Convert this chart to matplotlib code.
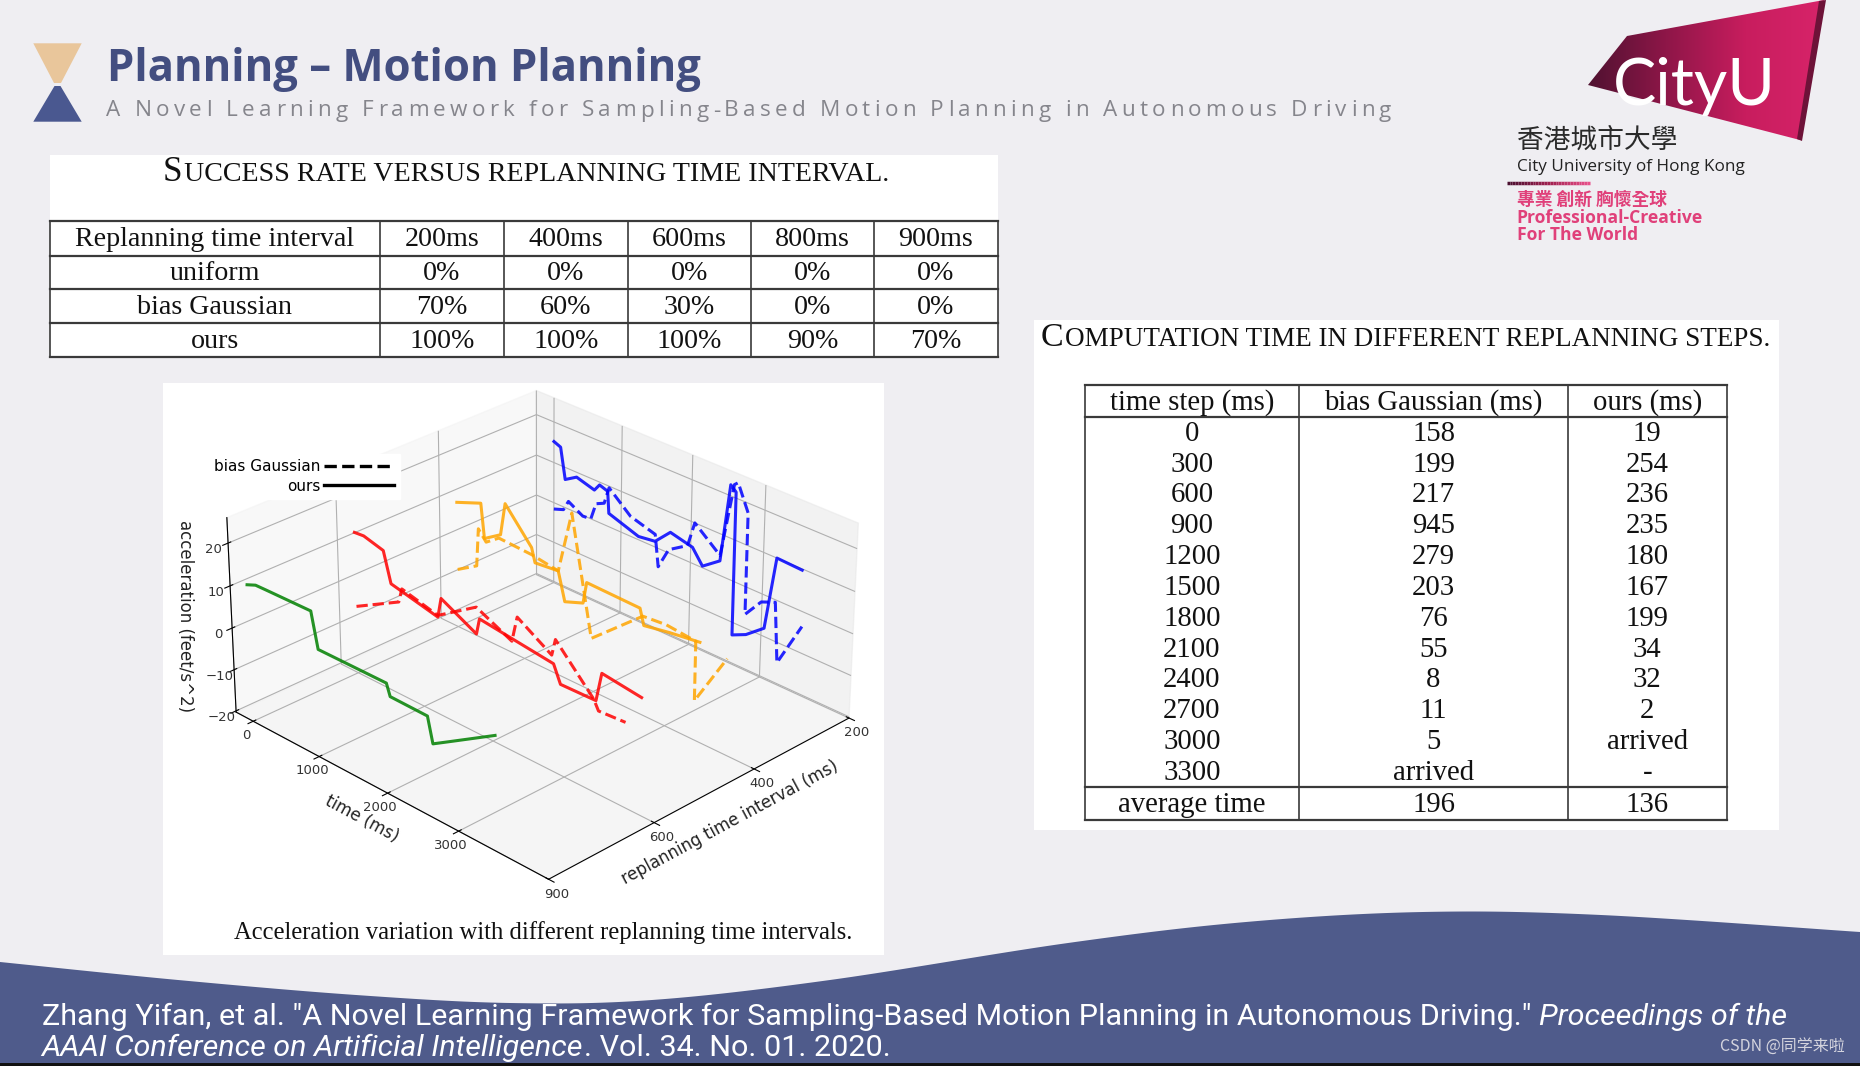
import numpy as np
import matplotlib
matplotlib.use("Agg")
import matplotlib.pyplot as plt
from matplotlib.patches import Polygon, Rectangle
from matplotlib.lines import Line2D
from matplotlib.collections import LineCollection
from matplotlib.colors import LinearSegmentedColormap
from matplotlib.font_manager import FontProperties

# ---------------------------------------------------------------- data
intervals = ["900", "600", "400", "200"]          # replanning time interval (ms)
time_ticks = [0, 1000, 2000, 3000]
acc_ticks = [-20, -10, 0, 10, 20]

# 900 ms interval (ours only)
t_900_ours = [0, 130, 300, 950, 1040, 2020, 2070, 2590, 2660, 2910, 3510]
a_900_ours = [12.3, 13.2, 13.3, 13.6, 5.4, 5.6, 2.9, 2.8, -3.0, -0.3, 6.2]
# 600 ms interval
t_600_ours = [0, 140, 430, 535, 1220, 1270, 1775, 1820, 2850, 2945, 3425, 3500, 4025]
a_600_ours = [13.8, 14.0, 12.7, 5.6, 3.0, 7.8, 3.4, 7.3, 5.1, 1.1, 1.3, 8.2, 7.0]
t_600_bias = [0, 645, 695, 1220, 1775, 2275, 2350, 2825, 2875, 3395, 3460, 3820]
a_600_bias = [-4.0, 2.1, 5.6, 3.4, 9.7, 5.7, 11.9, 6.9, 10.9, 1.4, -0.8, -0.4]
# 400 ms interval
t_400_ours = [0, 360, 410, 650, 720, 1105, 1155, 1490, 1585, 1845, 1895, 2640, 2695, 3040, 3455]
a_400_ours = [10.5, 12.9, 4.7, 7.4, 15.4, 7.7, 4.4, 5.0, -1.7, 0.0, 5.3, 5.0, 1.3, 2.4, 3.4]
t_400_bias = [0, 290, 320, 435, 625, 1105, 1490, 1680, 1965, 2680, 3000, 3400, 3400, 3820]
a_400_bias = [-6.0, -2.9, 6.4, 4.0, 6.4, 6.0, 5.0, 20.2, -7.6, 3.4, 3.9, 3.2, -10.9, 2.5]
# 200 ms interval
t_200_ours = [0, 100, 170, 340, 605, 680, 800, 820, 1255, 1495, 1710, 2025, 2170, 2410,
              2530, 2605, 2605, 2795, 3040, 3180, 3520]
a_200_ours = [15.2, 14.5, 7.0, 8.8, 7.5, 9.3, 8.6, 3.3, 0.8, 1.4, 5.2, 3.9, 0.4, 3.5,
              22.6, 21.4, -13.1, -11.5, -8.0, 10.0, 9.7]
t_200_bias = [0, 145, 220, 435, 555, 630, 750, 820, 1135, 1495, 1545, 1690, 1955, 2050,
              2410, 2580, 2630, 2775, 2775, 2990, 3180, 3230, 3545]
a_200_bias = [-1.6, -0.7, 1.9, -0.2, 0.0, 4.3, 5.3, 9.6, 4.9, 3.1, -4.5, 0.8, 3.8, 10.0,
              4.8, 23.0, 23.8, 17.7, -6.7, -2.0, -0.6, -14.9, -3.6]

# success-rate table
succ_header = ["Replanning time interval", "200ms", "400ms", "600ms", "800ms", "900ms"]
succ_methods = ["uniform", "bias Gaussian", "ours"]
succ_uniform = [0, 0, 0, 0, 0]
succ_bias = [70, 60, 30, 0, 0]
succ_ours = [100, 100, 100, 90, 70]

# computation-time table
comp_header = ["time step (ms)", "bias Gaussian (ms)", "ours (ms)"]
comp_steps = [0, 300, 600, 900, 1200, 1500, 1800, 2100, 2400, 2700, 3000, 3300]
comp_bias = ["158", "199", "217", "945", "279", "203", "76", "55", "8", "11", "5", "arrived"]
comp_ours = ["19", "254", "236", "235", "180", "167", "199", "34", "32", "2", "arrived", "-"]
comp_avg = ["average time", "196", "136"]

# ---------------------------------------------------------------- figure
W, H = 1860, 1066
BG = "#efeef2"
fig = plt.figure(figsize=(W / 100, H / 100), dpi=100)
fig.patch.set_facecolor(BG)
bg = fig.add_axes([0, 0, 1, 1])
bg.set_xlim(0, W)
bg.set_ylim(H, 0)
bg.set_autoscale_on(False)
bg.axis("off")
bg.patch.set_visible(False)
renderer = fig.canvas.get_renderer()


def tw(s, prop):
    return renderer.get_text_width_height_descent(s, prop, ismath=False)[0]


def fit_size(s, width, **fp):
    p = FontProperties(size=20, **fp)
    return 20 * width / tw(s, p)


# ---------------------------------------------------------------- 3D chart
ax = fig.add_axes([0.09, 0.12, 0.40, 0.50], projection="3d")
ax.set_facecolor("none")
ax.view_init(elev=28, azim=-45)
zr = 0.55
ax.set_box_aspect((1.04, 1.0, zr))

series = [
    (t_900_ours, a_900_ours, "900", "green", "-"),
    (t_600_ours, a_600_ours, "600", "red", "-"),
    (t_600_bias, a_600_bias, "600", "red", "--"),
    (t_400_ours, a_400_ours, "400", "orange", "-"),
    (t_400_bias, a_400_bias, "400", "orange", "--"),
    (t_200_ours, a_200_ours, "200", "blue", "-"),
    (t_200_bias, a_200_bias, "200", "blue", "--"),
]
for t, a, iv, col, ls in series:
    k = intervals.index(iv)
    ax.plot(t, [k] * len(t), a, color=col, ls=ls, lw=2.2, alpha=0.85)

ax.set_xlim(-265, 4215)
ax.set_ylim(0, len(intervals) - 1)
ax.set_zlim(-20.3, 25.9)
ax.set_xticks(time_ticks)
ax.set_yticks(range(len(intervals)))
ax.set_yticklabels(intervals)
ax.set_zticks(acc_ticks)
ax.zaxis.set_ticks_position("lower")
ax.zaxis.set_label_position("lower")
for a_ in (ax.xaxis, ax.yaxis, ax.zaxis):
    a_.set_tick_params(labelsize=9.5, labelcolor="#333333", pad=-2.5)
ax.set_xlabel("time (ms)", fontsize=12, color="#222222", labelpad=-3)
ax.set_ylabel("replanning time interval (ms)", fontsize=12, color="#222222", labelpad=-3)
ax.zaxis.set_rotate_label(False)
ax.set_zlabel("acceleration (feet/s^2)", fontsize=12, color="#222222", rotation=270,
              labelpad=-3)

handles = [Line2D([], [], color="black", ls="--", lw=2.4),
           Line2D([], [], color="black", ls="-", lw=2.4)]
ax.legend(handles, ["bias Gaussian", "ours"], loc="upper left",
          bbox_to_anchor=(201 / W, 1 - 446 / H), bbox_transform=fig.transFigure,
          markerfirst=False, frameon=True, fancybox=False, edgecolor="white",
          facecolor="white", framealpha=1, fontsize=11, handlelength=4.6,
          borderpad=0.35, labelspacing=0.3, handletextpad=0.25)

# fit the projected box onto the reference geometry
targets = np.array([
    [236.7, 713.3], [215.0, 520.0], [548.3, 861.7], [848.3, 718.3],
    [867.0, 540.0], [540.0, 572.0], [536.5, 390.0]])


def corners_px():
    M = ax.get_proj()
    x0, x1 = ax.get_xlim3d()
    y0, y1 = ax.get_ylim3d()
    z0, z1 = ax.get_zlim3d()
    pts = np.array([[x0, y0, z0], [x0, y0, z1], [x1, y0, z0], [x1, y1, z0],
                    [x1, y1, z1], [x0, y1, z0], [x0, y1, z1]])
    hom = np.column_stack([pts, np.ones(len(pts))]) @ M.T
    xy = hom[:, :2] / hom[:, 3:4]
    d = ax.transData.transform(xy)
    return np.column_stack([d[:, 0], H - d[:, 1]])


for it in range(6):
    fig.canvas.draw()
    P = corners_px()
    pos = ax.get_position(original=True)
    cx = (pos.x0 + pos.width / 2) * W
    cy = H - (pos.y0 + pos.height / 2) * H
    q = P - np.array([cx, cy])
    qm, Tm = q.mean(0), targets.mean(0)
    s = ((q - qm) * (targets - Tm)).sum() / ((q - qm) ** 2).sum()
    nc = Tm - s * qm
    nw, nh = pos.width * W * s, pos.height * H * s
    ax.set_position([(nc[0] - nw / 2) / W, (H - nc[1] - nh / 2) / H, nw / W, nh / H])
    hp = np.mean([P[0, 1] - P[1, 1], P[3, 1] - P[4, 1], P[5, 1] - P[6, 1]])
    fp = P[2, 1] - P[6, 1]
    ht = np.mean([targets[0, 1] - targets[1, 1], targets[3, 1] - targets[4, 1],
                  targets[5, 1] - targets[6, 1]])
    ft = targets[2, 1] - targets[6, 1]
    zr *= ((ht / ft) / (hp / fp)) ** 1.2
    ax.set_box_aspect((1.04, 1.0, zr))

# ---------------------------------------------------------------- header
bg.add_patch(Polygon([(33.3, 43.3), (81.7, 43.3), (61, 83), (54, 83)],
                     closed=True, fc="#e9c69b", ec="none", zorder=2))
bg.add_patch(Polygon([(54.5, 86), (60.5, 86), (81.7, 121.7), (33.3, 121.7)],
                     closed=True, fc="#4a5890", ec="none", zorder=2))

title = "Planning \u2013 Motion Planning"
fs = fit_size(title, 594, family="Open Sans", weight="bold")
bg.text(107, 81.5, title, fontsize=fs, family="Open Sans", weight="bold",
        color="#434e80", ha="left", va="baseline", zorder=3)

sub = "A Novel Learning Framework for Sampling-Based Motion Planning in Autonomous Driving"
sp = FontProperties(family="Open Sans", size=16.2)
total = tw(sub, sp)
track = (1285 - total) / (len(sub) - 1)
for i, ch in enumerate(sub):
    if ch == " ":
        continue
    left = tw(sub[:i + 1], sp) - tw(ch, sp)
    bg.text(106 + left + i * track, 116.5, ch, fontproperties=sp, color="#85858c",
            ha="left", va="baseline", zorder=3)

# ---------------------------------------------------------------- logo
logo_poly = Polygon([(1588, 85), (1627, 36), (1824, 0), (1800, 140)], closed=True,
                    fc="none", ec="none")
bg.add_patch(logo_poly)
cm_logo = LinearSegmentedColormap.from_list("logo", ["#4e1230", "#8e1648", "#c81d5e", "#d8246a"])
grad = np.linspace(0, 1, 256)[None, :] * np.ones((40, 1))
im = bg.imshow(grad, extent=[1586, 1826, 142, 0], aspect="auto", cmap=cm_logo,
               interpolation="bicubic", zorder=2)
im.set_clip_path(logo_poly)
bg.add_patch(Polygon([(1819, 1), (1826, 0), (1802, 141), (1797, 139)], closed=True,
                     fc="#6d1238", ec="none", zorder=2))
bg.set_xlim(0, W)
bg.set_ylim(H, 0)
fs = fit_size("CityU", 163, family="Lato")
bg.text(1613, 105, "CityU", fontsize=fs, family="Lato", color="white", ha="left",
        va="baseline", zorder=3)
fs = fit_size("香港城市大學", 160, family="Noto Sans CJK TC")
bg.text(1516.7, 140, "香港城市大學", fontsize=fs, family=["Noto Sans CJK TC"], weight="medium",
        color="#2a2a2a", ha="left", va="center", zorder=3)
fs = fit_size("City University of Hong Kong", 226.7, family="Open Sans")
bg.text(1516.7, 166.7, "City University of Hong Kong", fontsize=fs, family="Open Sans",
        color="#222222", ha="left", va="center", zorder=3)
xs = np.linspace(1506.7, 1590, 30)
segs = [[(xs[i], 182.7), (xs[i + 1], 182.7)] for i in range(len(xs) - 1)]
lcm = LinearSegmentedColormap.from_list("ln", ["#4a1030", "#a0204f", "#e8508a"])
bg.add_collection(LineCollection(segs, colors=lcm(np.linspace(0, 1, len(segs))), lw=2.5, zorder=3))
MAG = "#e0407a"
fs = fit_size("專業 創新 胸懷全球", 150, family="Noto Sans CJK TC", weight="bold")
bg.text(1516.7, 200, "專業 創新 胸懷全球", fontsize=fs, family=["Noto Sans CJK TC"],
        weight="bold", color=MAG, ha="left", va="center", zorder=3)
fs = fit_size("Professional-Creative", 186.6, family="Open Sans", weight="bold")
bg.text(1516.7, 218.3, "Professional-Creative", fontsize=fs, family="Open Sans",
        weight="bold", color=MAG, ha="left", va="center", zorder=3)
bg.text(1516.7, 235, "For The World", fontsize=fs, family="Open Sans",
        weight="bold", color=MAG, ha="left", va="center", zorder=3)

# ---------------------------------------------------------------- panels
bg.add_patch(Rectangle((49.8, 155), 997.6 - 49.8, 358 - 155, fc="white", ec="none", zorder=1))
bg.add_patch(Rectangle((1034.4, 320), 1779 - 1034.4, 830 - 320, fc="white", ec="none", zorder=1))
bg.add_patch(Rectangle((162.5, 383), 883.7 - 162.5, 955 - 383, fc="white", ec="none", zorder=1))

SERIF = "Liberation Serif"


def smallcaps_title(cx, base, first, rest, width):
    p1 = FontProperties(family=SERIF, size=20)
    p2 = FontProperties(family=SERIF, size=16)
    w0 = tw(first, p1) + tw(rest, p2) + 1.5
    k = width / w0
    p1 = FontProperties(family=SERIF, size=20 * k)
    p2 = FontProperties(family=SERIF, size=16 * k)
    x0 = cx - width / 2
    bg.text(x0, base, first, fontproperties=p1, color="#111111", ha="left", va="baseline", zorder=3)
    bg.text(x0 + tw(first, p1) + 1.5 * k, base, rest, fontproperties=p2, color="#111111",
            ha="left", va="baseline", zorder=3)


smallcaps_title(527.5, 181, "S", "UCCESS RATE VERSUS REPLANNING TIME INTERVAL.", 729.5)
smallcaps_title(1407.3, 345.5, "C", "OMPUTATION TIME IN DIFFERENT REPLANNING STEPS.", 733)

# success-rate table
cols = [49.8, 379.6, 504.1, 627.5, 750.8, 874.2, 997.6]
rows = [220.7, 255.7, 289.3, 323.3, 357.3]
LC = "#3a3a3a"
for y in rows:
    bg.plot([cols[0], cols[-1]], [y, y], color=LC, lw=1.6, zorder=3)
for x in cols:
    bg.plot([x, x], [rows[0], rows[-1]], color=LC, lw=1.2, zorder=3)
fs_t1 = fit_size(succ_header[0], 280, family=SERIF)
table1 = [succ_header] + [[m] + ["%d%%" % v for v in vals] for m, vals in
                          zip(succ_methods, [succ_uniform, succ_bias, succ_ours])]
for r, rowvals in enumerate(table1):
    yc = (rows[r] + rows[r + 1]) / 2
    for c, txt in enumerate(rowvals):
        xc = (cols[c] + cols[c + 1]) / 2
        bg.text(xc, yc + 1, txt, fontsize=fs_t1, family=SERIF, color="#111111",
                ha="center", va="center", zorder=3)

# computation-time table
c2 = [1084.8, 1299.0, 1568.0, 1726.6]
top, hb, ab, bot = 385.0, 417.3, 787.3, 820.0
for y in (top, hb, ab, bot):
    bg.plot([c2[0], c2[-1]], [y, y], color=LC, lw=1.6, zorder=3)
for x in c2:
    bg.plot([x, x], [top, bot], color=LC, lw=1.2, zorder=3)
fs_t2 = fit_size(comp_header[1], 219.6, family=SERIF)


def row3(yc, vals):
    for c, txt in enumerate(vals):
        xc = (c2[c] + c2[c + 1]) / 2
        bg.text(xc, yc + 1, txt, fontsize=fs_t2, family=SERIF, color="#111111",
                ha="center", va="center", zorder=3)


row3((top + hb) / 2, comp_header)
step_h = (ab - hb) / len(comp_steps)
for i, (st, b, o) in enumerate(zip(comp_steps, comp_bias, comp_ours)):
    row3(hb + step_h * (i + 0.5), [str(st), b, o])
row3((ab + bot) / 2, comp_avg)

# chart caption
cap = "Acceleration variation with different replanning time intervals."
fs = fit_size(cap, 620, family=SERIF)
bg.text(233.7, 939, cap, fontsize=fs, family=SERIF, color="#111111", ha="left",
        va="baseline", zorder=3)

# ---------------------------------------------------------------- footer wave


def catmull(pts, n=30):
    pts = np.asarray(pts, float)
    Pp = np.vstack([pts[0], pts, pts[-1]])
    out = []
    for i in range(1, len(Pp) - 2):
        p0, p1, p2, p3 = Pp[i - 1], Pp[i], Pp[i + 1], Pp[i + 2]
        tt = np.linspace(0, 1, n, endpoint=False)[:, None]
        out.append(0.5 * ((2 * p1) + (-p0 + p2) * tt + (2 * p0 - 5 * p1 + 4 * p2 - p3) * tt ** 2
                          + (-p0 + 3 * p1 - 3 * p2 + p3) * tt ** 3))
    out.append(pts[-1:])
    return np.vstack(out)


edge = catmull([(0, 962), (178, 980), (356, 995), (510, 1003), (652, 1000), (830, 980),
                (1068, 943), (1246, 922), (1423, 912), (1601, 915), (1860, 932)])
wave = np.vstack([edge, [(1860, 1066), (0, 1066)]])
bg.add_patch(Polygon(wave, closed=True, fc="#4f5b8b", ec="none", zorder=1))
bg.add_patch(Rectangle((0, 1063), W, 3, fc="#111111", ec="none", zorder=4))

FOOT = "Roboto"
l1a = 'Zhang Yifan, et al. "A Novel Learning Framework for Sampling-Based Motion Planning in Autonomous Driving."'
l1b = "Proceedings of the"
l2a = "AAAI Conference on Artificial Intelligence"
l2b = ". Vol. 34. No. 01. 2020."
pr = FontProperties(family=FOOT, size=20)
pi = FontProperties(family=FOOT, size=20, style="italic")
spw = tw("x x", pr) - tw("xx", pr)
k = 1738 / (tw(l1a, pr) + spw + tw(l1b, pi))
pr = FontProperties(family=FOOT, size=20 * k)
pi = FontProperties(family=FOOT, size=20 * k, style="italic")
spw *= k
bg.text(41.5, 1025, l1a, fontproperties=pr, color="white", ha="left", va="baseline", zorder=3)
bg.text(41.5 + tw(l1a, pr) + spw, 1025, l1b, fontproperties=pi, color="white", ha="left",
        va="baseline", zorder=3)
bg.text(41.5, 1056, l2a, fontproperties=pi, color="white", ha="left", va="baseline", zorder=3)
bg.text(41.5 + tw(l2a, pi) + 1, 1056, l2b, fontproperties=pr, color="white", ha="left",
        va="baseline", zorder=3)
bg.text(1845, 1047, "CSDN @同学来啦", fontsize=11.5, family=["Noto Sans CJK SC"],
        color="#d4d4de", ha="right", va="center", zorder=3)

fig.savefig("out.png", dpi=100, facecolor=fig.get_facecolor())
